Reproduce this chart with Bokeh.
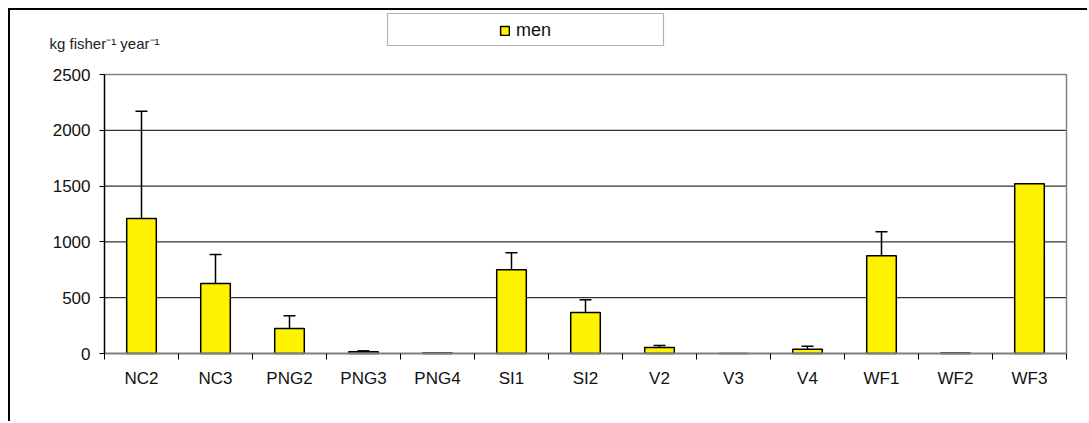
from bokeh.plotting import figure
from bokeh.models import (ColumnDataSource, Range1d, FixedTicker, Whisker, TeeHead,
                          Legend, LegendItem, BoxAnnotation, Label, LinearAxis)
from bokeh.embed import file_html
from bokeh.resources import INLINE

# ---- data ----
categories = ["NC2", "NC3", "PNG2", "PNG3", "PNG4", "SI1", "SI2", "V2", "V3", "V4", "WF1", "WF2", "WF3"]
men = [1210, 627, 224, 15, 5, 750, 367, 54, 0, 39, 875, 5, 1520]
men_err = [961, 260, 114, 9, 0, 152, 114, 18, 0, 26, 215, 0, 0]
y_ticks = [0, 500, 1000, 1500, 2000, 2500]
series_name = "men"
y_title = "kg fisher\u207b\u00b9 year\u207b\u00b9"

FONT = "Liberation Sans"
BAR_FILL = "#FFF200"
GRAY = "#808080"

# ---- layout (canvas pixels; canvas starts 10px into the page) ----
W, H = 1079, 413
PX_L, PX_R, PX_T, PX_B = 94, 1056, 64, 343   # plot area
n = len(categories)
ymax = y_ticks[-1]
xpx = (PX_R - PX_L) / n
ypx = (PX_B - PX_T) / ymax
x_range = Range1d(-PX_L / xpx, n + (W - PX_R) / xpx)
y_range = Range1d(-(H - PX_B) / ypx, PX_B / ypx)

xs = [i + 0.5 for i in range(n)]
src = ColumnDataSource(dict(x=xs, top=men))
ex = [x for x, e in zip(xs, men_err) if e > 0]
elo = [m for m, e in zip(men, men_err) if e > 0]
ehi = [m + e for m, e in zip(men, men_err) if e > 0]
esrc = ColumnDataSource(dict(x=ex, lo=elo, hi=ehi))

p = figure(width=W, height=H, output_backend="svg", toolbar_location=None,
           x_range=x_range, y_range=y_range,
           min_border=0, min_border_left=0, min_border_right=0,
           min_border_top=0, min_border_bottom=0)
p.margin = (8, 0, 0, 8)
p.styles = {"border-left": "2px solid black", "border-top": "2px solid black"}
p.outline_line_color = None
p.background_fill_color = "white"
p.border_fill_color = "white"

left_axis = p.left[0]
bottom_axis = p.below[0]

# horizontal gridlines limited to the plot area
p.xgrid.visible = False
p.ygrid.visible = False
p.segment(x0=0, x1=n, y0=y_ticks, y1=y_ticks, line_color="black", line_width=1,
          level="underlay")

r = p.vbar(x="x", top="top", width=0.4, bottom=0, source=src,
           fill_color=BAR_FILL, line_color="black", line_width=1.5)

w = Whisker(base="x", lower="lo", upper="hi", source=esrc, dimension="height",
            line_color="black", line_width=1.5,
            upper_head=TeeHead(size=12, line_color="black", line_width=1.5),
            lower_head=None)
p.add_layout(w)

# y axis
left_axis.fixed_location = 0
left_axis.bounds = (0, ymax)
left_axis.ticker = FixedTicker(ticks=y_ticks)
left_axis.major_tick_in = 0
left_axis.major_tick_out = 5
left_axis.minor_tick_line_color = None
left_axis.axis_line_color = "black"
left_axis.axis_line_width = 1.5
left_axis.major_label_text_font = FONT
left_axis.major_label_text_font_size = "17px"
left_axis.major_label_text_color = "#111"
left_axis.major_label_standoff = 9

# x axis
bottom_axis.fixed_location = 0
bottom_axis.bounds = (0, n)
bottom_axis.ticker = FixedTicker(ticks=xs, minor_ticks=list(range(n + 1)))
bottom_axis.major_label_overrides = {x: c for x, c in zip(xs, categories)}
bottom_axis.major_tick_in = 0
bottom_axis.major_tick_out = 0
bottom_axis.minor_tick_in = 0
bottom_axis.minor_tick_out = 6
bottom_axis.minor_tick_line_color = "black"
bottom_axis.axis_line_color = GRAY
bottom_axis.axis_line_width = 2
bottom_axis.major_label_text_font = FONT
bottom_axis.major_label_text_font_size = "17px"
bottom_axis.major_label_text_color = "#111"
bottom_axis.major_label_standoff = 9

# plot-area border on top and right
right_axis = LinearAxis(fixed_location=n, bounds=(0, ymax), ticker=FixedTicker(ticks=[]),
                        axis_line_color=GRAY, axis_line_width=1.5,
                        major_tick_line_color=None, minor_tick_line_color=None,
                        major_label_text_font_size="0px")
p.add_layout(right_axis, "right")
top_axis = LinearAxis(fixed_location=ymax, bounds=(0, n), ticker=FixedTicker(ticks=[]),
                      axis_line_color=GRAY, axis_line_width=1.5,
                      major_tick_line_color=None, minor_tick_line_color=None,
                      major_label_text_font_size="0px")
p.add_layout(top_axis, "above")

# legend box + legend
p.add_layout(BoxAnnotation(left=377, right=653, bottom=H - 35, top=H - 3,
                           left_units="screen", right_units="screen",
                           bottom_units="screen", top_units="screen",
                           fill_color="white", fill_alpha=1,
                           line_color="black", line_width=1.2))
legend = Legend(items=[LegendItem(label=series_name, renderers=[r])],
                location=(489, H - 31), padding=0, margin=0,
                border_line_color=None, background_fill_alpha=0,
                glyph_width=11, glyph_height=11, label_standoff=6,
                label_text_font=FONT, label_text_font_size="18px", label_text_color="#111")
p.add_layout(legend, "center")

# y-axis title
p.add_layout(Label(x=39, y=H - 33, x_units="screen", y_units="screen", text=y_title,
                   text_baseline="middle",
                   text_font=FONT, text_font_size="15px", text_color="#222"))

open("out.html", "w").write(file_html(p, INLINE))
